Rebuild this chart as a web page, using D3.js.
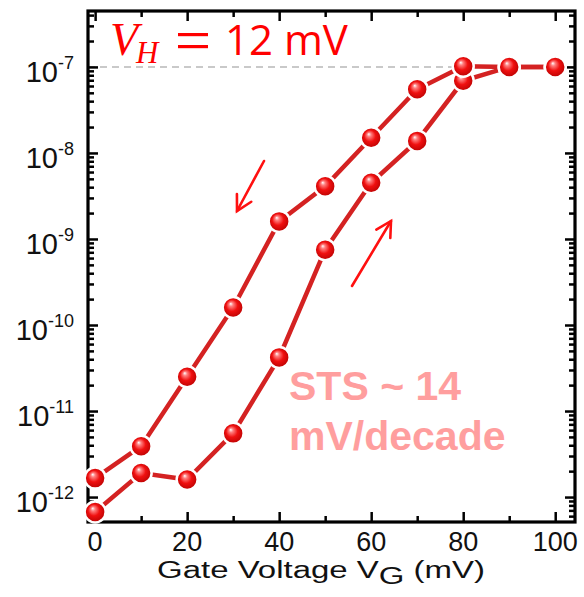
<!DOCTYPE html>
<html><head><meta charset="utf-8">
<script src="https://cdn.jsdelivr.net/npm/d3@7"></script>
<style>body{margin:0;background:#fff;}svg{display:block;}</style>
</head><body>
<svg id="c" width="584" height="597"></svg>
<script>
const gateVoltage = [0, 10, 20, 30, 40, 50, 60, 70, 80, 90, 100];
const sweepDown = [1.66e-12, 3.9e-12, 2.5e-11, 1.6e-10, 1.6e-9, 4.1e-9, 1.5e-8, 5.5e-8, 1.02e-7, 1.0e-7, 1.0e-7];
const sweepUp = [6.7e-13, 1.9e-12, 1.6e-12, 5.5e-12, 4.2e-11, 7.5e-10, 4.5e-9, 1.38e-8, 6.9e-8, 1.0e-7, 1.0e-7];
const xTicks = [0, 20, 40, 60, 80, 100];
const yExponents = [-7, -8, -9, -10, -11, -12];
const refLevel = 1e-7;

const svg = d3.select("#c");
const W = 584, H = 597;
const m = {left: 88, right: 9, top: 11, bottom: 75};
const x = d3.scaleLinear().domain([-1.55, 104.3]).range([m.left, W - m.right]);
const y = d3.scaleLog().domain([Math.pow(10, -12.29), Math.pow(10, -6.35)]).range([H - m.bottom, m.top]);

const defs = svg.append("defs");
const grad = defs.append("radialGradient").attr("id", "ball").attr("cx", "0.5").attr("cy", "0.5").attr("r", "0.55").attr("fx", "0.38").attr("fy", "0.32");
grad.append("stop").attr("offset", "0").attr("stop-color", "#ffffff");
grad.append("stop").attr("offset", "0.18").attr("stop-color", "#ff8080");
grad.append("stop").attr("offset", "0.5").attr("stop-color", "#f01010");
grad.append("stop").attr("offset", "1").attr("stop-color", "#b00000");

const x0 = m.left, x1 = W - m.right, y0 = H - m.bottom, y1 = m.top;

// dashed reference line
svg.append("line").attr("x1", x0).attr("x2", x1).attr("y1", y(refLevel)).attr("y2", y(refLevel))
  .attr("stroke", "#b8b8b8").attr("stroke-width", 1.5).attr("stroke-dasharray", "7,5");

// axes using d3 axis generators, ticks inside
const majorLen = 10, minorLen = 6;
const xMinor = d3.range(0, 101, 10).filter(v => v % 20 !== 0);
const logMinor = [];
for (let e = -13; e <= -6; e++) for (let k = 2; k <= 9; k++) { const v = k * Math.pow(10, e); if (v >= y.domain()[0] && v <= y.domain()[1]) logMinor.push(v); }
const logMajor = yExponents.map(e => Math.pow(10, e));

function styleAxis(g) {
  g.selectAll(".domain").remove();
  g.selectAll("line").attr("stroke", "#000").attr("stroke-width", 2.5);
  g.selectAll("text").remove();
}
// bottom
svg.append("g").attr("transform", `translate(0,${y0})`).call(d3.axisTop(x).tickValues(xTicks).tickSize(majorLen)).call(styleAxis);
svg.append("g").attr("transform", `translate(0,${y0})`).call(d3.axisTop(x).tickValues(xMinor).tickSize(minorLen)).call(styleAxis);
// top
svg.append("g").attr("transform", `translate(0,${y1})`).call(d3.axisBottom(x).tickValues(xTicks).tickSize(majorLen)).call(styleAxis);
svg.append("g").attr("transform", `translate(0,${y1})`).call(d3.axisBottom(x).tickValues(xMinor).tickSize(minorLen)).call(styleAxis);
// left
svg.append("g").attr("transform", `translate(${x0},0)`).call(d3.axisRight(y).tickValues(logMajor).tickSize(majorLen)).call(styleAxis);
svg.append("g").attr("transform", `translate(${x0},0)`).call(d3.axisRight(y).tickValues(logMinor).tickSize(minorLen)).call(styleAxis);
// right
svg.append("g").attr("transform", `translate(${x1},0)`).call(d3.axisLeft(y).tickValues(logMajor).tickSize(majorLen)).call(styleAxis);
svg.append("g").attr("transform", `translate(${x1},0)`).call(d3.axisLeft(y).tickValues(logMinor).tickSize(minorLen)).call(styleAxis);

// frame
svg.append("rect").attr("x", x0).attr("y", y1).attr("width", x1 - x0).attr("height", y0 - y1)
  .attr("fill", "none").attr("stroke", "#000").attr("stroke-width", 3.2);

// tick labels
const font = "Liberation Sans, Arial, sans-serif";
svg.append("g").selectAll("text").data(xTicks).join("text")
  .attr("x", d => x(d)).attr("y", y0 + 29).attr("text-anchor", "middle")
  .attr("font-family", font).attr("font-size", 27).attr("fill", "#111").text(d => d);

const yl = svg.append("g").selectAll("text").data(yExponents).join("text")
  .attr("x", 74).attr("y", d => y(Math.pow(10, d)) + 15).attr("text-anchor", "end")
  .attr("font-family", font).attr("font-size", 29).attr("fill", "#111");
yl.append("tspan").text("10");
yl.append("tspan").attr("font-size", 18).attr("dy", -13).text(d => String(d));

// axis title (horizontally stretched like the reference)
const xtg = svg.append("g");
const xt = xtg.append("text").attr("x", 0).attr("y", 0).attr("text-anchor", "middle")
  .attr("font-family", font).attr("font-size", 23).attr("fill", "#111");
xt.append("tspan").text("Gate Voltage V");
xt.append("tspan").attr("dy", 6).text("G");
xt.append("tspan").attr("dy", -6).text(" (mV)");
const bw = xt.node().getBBox().width;
xtg.attr("transform", `translate(321,578) scale(${328 / bw},1)`);

// lines
const lineGen = d3.line().x(d => x(d[0])).y(d => y(d[1]));
const red = "#d42222";
[sweepDown, sweepUp].forEach(s => {
  svg.append("path").datum(gateVoltage.map((v, i) => [v, s[i]]))
    .attr("d", lineGen).attr("fill", "none").attr("stroke", red).attr("stroke-width", 4.5);
});
// dots
[sweepUp, sweepDown].forEach(s => {
  svg.append("g").selectAll("circle").data(gateVoltage.map((v, i) => [v, s[i]])).join("circle")
    .attr("cx", d => x(d[0])).attr("cy", d => y(d[1])).attr("r", 10.5)
    .attr("fill", "url(#ball)").attr("stroke", "#fff").attr("stroke-width", 2.5);
});

// arrows (annotations)
function arrow(xa, ya, xb, yb) {
  const g = svg.append("g").attr("stroke", "#ff1010").attr("stroke-width", 2.6).attr("fill", "none").attr("stroke-linecap", "round");
  g.append("line").attr("x1", xa).attr("y1", ya).attr("x2", xb).attr("y2", yb);
  const ang = Math.atan2(yb - ya, xb - xa), L = 17, a = 0.5;
  g.append("polyline").attr("points", [
    [xb - L * Math.cos(ang - a), yb - L * Math.sin(ang - a)], [xb, yb],
    [xb - L * Math.cos(ang + a), yb - L * Math.sin(ang + a)]].map(p => p.join(",")).join(" "));
}
arrow(264, 161, 237, 211);
arrow(352, 286, 391, 221);

// title V_H = 12 mV
const serif = "Liberation Serif, DejaVu Serif, serif";
const tg = svg.append("g").attr("fill", "#ff0000");
tg.append("text").attr("x", 110).attr("y", 55).attr("font-family", serif).attr("font-style", "italic").attr("font-size", 46).text("V");
tg.append("text").attr("x", 136).attr("y", 63).attr("font-family", serif).attr("font-style", "italic").attr("font-size", 31).text("H");
tg.append("rect").attr("x", 178).attr("y", 33).attr("width", 30).attr("height", 3.2);
tg.append("rect").attr("x", 178).attr("y", 45).attr("width", 30).attr("height", 3.2);
tg.append("text").attr("x", 225).attr("y", 55).attr("font-family", "Open Sans, Noto Sans, sans-serif").attr("font-size", 42).text("12 mV");

// STS annotation
const sts = svg.append("text").attr("font-family", font).attr("font-weight", "bold").attr("font-size", 41).attr("fill", "#ff9e9e");
sts.append("tspan").attr("x", 289).attr("y", 400).text("STS ~ 14");
sts.append("tspan").attr("x", 289).attr("y", 450).text("mV/decade");
</script>
</body></html>
